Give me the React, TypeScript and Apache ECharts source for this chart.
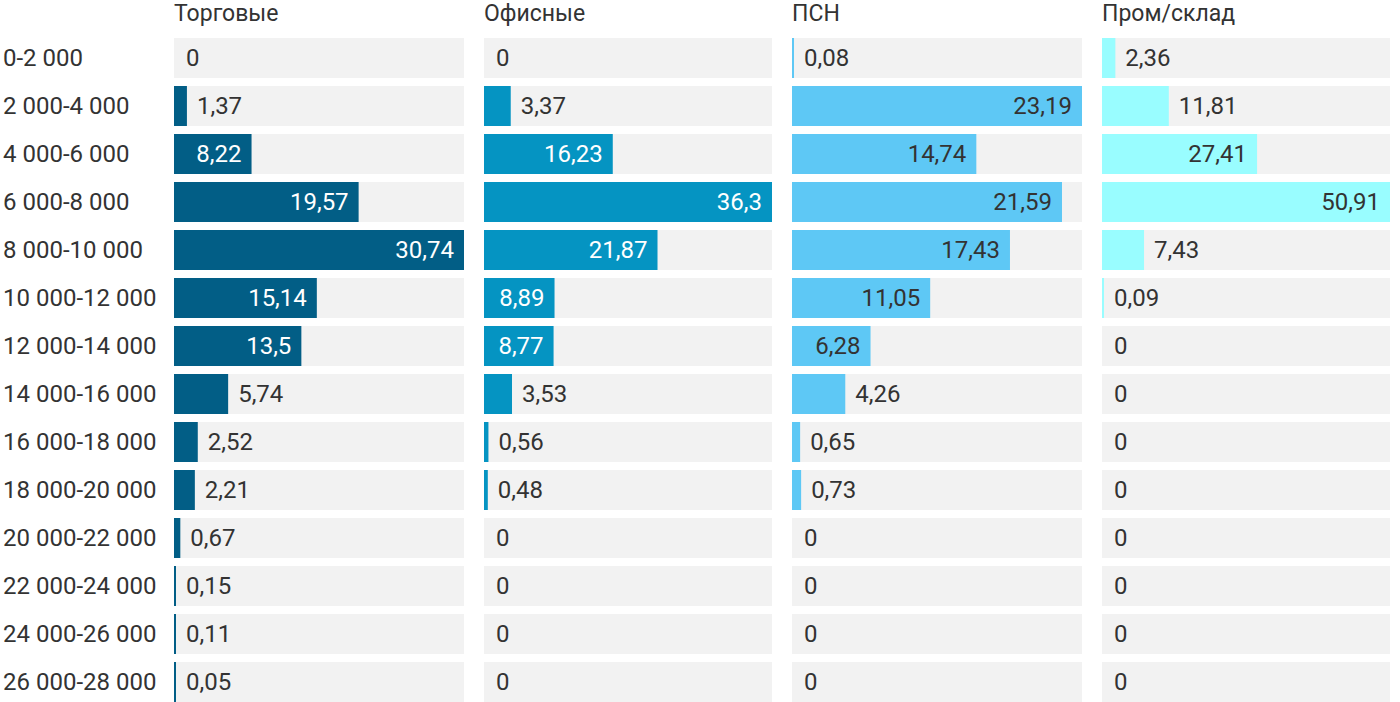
import React, { useEffect, useRef } from "react";
import * as echarts from "echarts";

const categories = [
  "0-2 000", "2 000-4 000", "4 000-6 000", "6 000-8 000", "8 000-10 000",
  "10 000-12 000", "12 000-14 000", "14 000-16 000", "16 000-18 000",
  "18 000-20 000", "20 000-22 000", "22 000-24 000", "24 000-26 000", "26 000-28 000",
];
const panelTitles = ["Торговые", "Офисные", "ПСН", "Пром/склад"];
const retail = [0, 1.37, 8.22, 19.57, 30.74, 15.14, 13.5, 5.74, 2.52, 2.21, 0.67, 0.15, 0.11, 0.05];
const office = [0, 3.37, 16.23, 36.3, 21.87, 8.89, 8.77, 3.53, 0.56, 0.48, 0, 0, 0, 0];
const psn = [0.08, 23.19, 14.74, 21.59, 17.43, 11.05, 6.28, 4.26, 0.65, 0.73, 0, 0, 0, 0];
const industrial = [2.36, 11.81, 27.41, 50.91, 7.43, 0.09, 0, 0, 0, 0, 0, 0, 0, 0];

const seriesData = [retail, office, psn, industrial];
const colors = ["#025e86", "#0594c2", "#5ec8f5", "#99fdff"];
const insideLabelColors = ["#ffffff", "#ffffff", "#333333", "#333333"];
const gridLefts = [174, 484, 792, 1102];
const gridWidths = [290, 288, 290, 288];
const FONT = 24;

const fmt = (v: number) => String(v).replace(".", ",");
const textWidth = (s: string) => {
  let w = 0;
  for (const ch of s) w += ch === "," ? 0.23 * FONT : 0.5625 * FONT;
  return w;
};

export default function App() {
  const ref = useRef<HTMLDivElement>(null);
  useEffect(() => {
    if (!ref.current) return;
    const chart = echarts.init(ref.current, undefined, { renderer: "svg" });
    const grids = gridLefts.map((left, i) => ({
      left,
      width: gridWidths[i],
      top: 34,
      height: 672,
      containLabel: false,
    }));
    const xAxes = seriesData.map((d, i) => ({
      type: "value",
      gridIndex: i,
      min: 0,
      max: Math.max(...d),
      show: false,
    }));
    const yAxes = seriesData.map((_, i) => ({
      type: "category",
      gridIndex: i,
      data: categories,
      inverse: true,
      axisLine: { show: false },
      axisTick: { show: false },
      splitLine: { show: false },
      axisLabel: {
        show: i === 0,
        align: "left",
        margin: 171,
        fontSize: FONT,
        color: "#333333",
        fontFamily: "Roboto",
      },
    }));
    const series = seriesData.map((d, i) => {
      const max = Math.max(...d);
      return {
        type: "bar",
        xAxisIndex: i,
        yAxisIndex: i,
        barWidth: 40,
        barMinHeight: 2,
        showBackground: true,
        backgroundStyle: { color: "#f2f2f2" },
        data: d.map((v) => {
          const px = (v / max) * gridWidths[i];
          const inside = px >= textWidth(fmt(v)) + 20;
          return {
            value: v,
            itemStyle: { color: v === 0 ? "rgba(0,0,0,0)" : colors[i] },
            label: {
              show: true,
              position: inside ? "insideRight" : "right",
              distance: 10,
              formatter: fmt(v),
              fontSize: FONT,
              fontFamily: "Roboto",
              color: inside ? insideLabelColors[i] : "#333333",
            },
          };
        }),
      };
    });
    chart.setOption({
      animation: false,
      backgroundColor: "#ffffff",
      title: panelTitles.map((t, i) => ({
        text: t,
        left: gridLefts[i],
        top: 2,
        padding: 0,
        textStyle: { fontSize: 23, fontWeight: "normal", color: "#333333", fontFamily: "Roboto" },
      })),
      grid: grids,
      xAxis: xAxes,
      yAxis: yAxes,
      series,
    });
    return () => chart.dispose();
  }, []);
  return (
    <div
      style={{ position: "fixed", left: 0, top: 0, width: 1400, height: 702, overflow: "hidden" }}
    >
      <div ref={ref} style={{ width: 1400, height: 712 }} />
    </div>
  );
}
